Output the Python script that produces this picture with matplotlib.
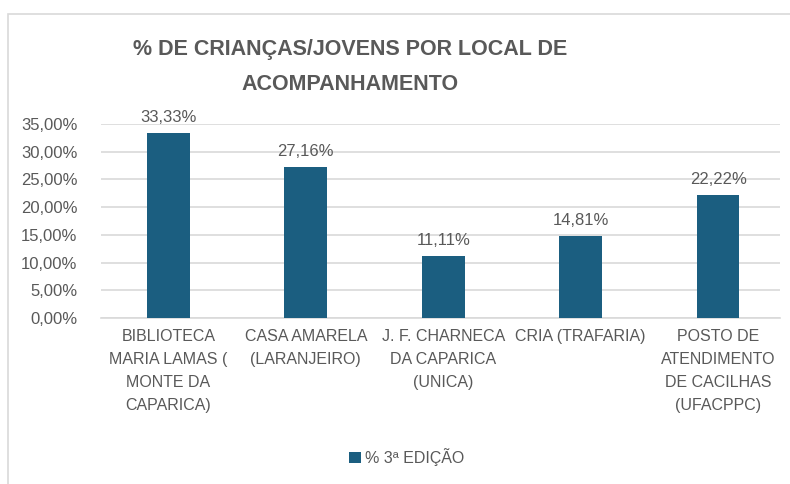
import numpy as np
import matplotlib.pyplot as plt
from matplotlib.patches import Rectangle

# data
locais = ['BIBLIOTECA\nMARIA LAMAS (\nMONTE DA\nCAPARICA)',
          'CASA AMARELA\n(LARANJEIRO)',
          'J. F. CHARNECA\nDA CAPARICA\n(UNICA)',
          'CRIA (TRAFARIA)',
          'POSTO DE\nATENDIMENTO\nDE CACILHAS\n(UFACPPC)']
valores = [0.3333, 0.2716, 0.1111, 0.1481, 0.2222]
rotulos = ['33,33%', '27,16%', '11,11%', '14,81%', '22,22%']
yticks = [0, 0.05, 0.10, 0.15, 0.20, 0.25, 0.30, 0.35]
ytick_labels = ['0,00%', '5,00%', '10,00%', '15,00%', '20,00%', '25,00%', '30,00%', '35,00%']
serie = '% 3ª EDIÇÃO'
titulo = '% DE CRIANÇAS/JOVENS POR LOCAL DE\nACOMPANHAMENTO'

plt.rcParams['font.family'] = ['Liberation Sans', 'DejaVu Sans']
cinza = '#595959'
azul = '#1B5E80'

fig = plt.figure(figsize=(7.9, 4.84), dpi=100)
fig.patches.append(Rectangle((8/790, -0.02), 1.1, 1 - 14/484 + 0.02, transform=fig.transFigure,
                             fill=False, edgecolor='#d9d9d9', lw=1.2))

ax = fig.add_axes([101/790, 1 - 318/484, 679/790, (318 - 124)/484])
x = np.arange(len(locais))
bars = ax.bar(x, valores, width=0.31, color=azul, label=serie, zorder=3)
for xi, v, r in zip(x, valores, rotulos):
    ax.annotate(r, (xi, v), xytext=(0, 6), textcoords='offset points',
                ha='center', va='bottom', fontsize=12, color=cinza)

ax.set_xlim(-0.49, 4.45)
ax.set_ylim(0, 0.35)
ax.set_yticks(yticks)
ax.set_yticklabels(ytick_labels, fontsize=12, color=cinza)
ax.set_xticks(x)
ax.set_xticklabels(locais, fontsize=11.5, color=cinza, linespacing=1.65)
ax.tick_params(length=0, pad=8)
ax.tick_params(axis='y', pad=17)
ax.grid(axis='y', color='#d9d9d9', lw=1.2, zorder=0)
for s in ['top', 'right', 'left']:
    ax.spines[s].set_visible(False)
ax.spines['bottom'].set_color('#d9d9d9')
ax.spines['bottom'].set_linewidth(1.2)

fig.text(350/790, 1 - 67/484, titulo, ha='center', va='center', fontsize=15.5,
         fontweight='bold', color=cinza, linespacing=1.9)

fig.legend(handles=[bars], labels=[serie], loc='center', bbox_to_anchor=(407/790, 1 - 457/484),
           frameon=False, fontsize=11.5, handlelength=0.7, handleheight=0.7, handletextpad=0.3,
           labelcolor=cinza)

fig.savefig('out.png', dpi=100)
